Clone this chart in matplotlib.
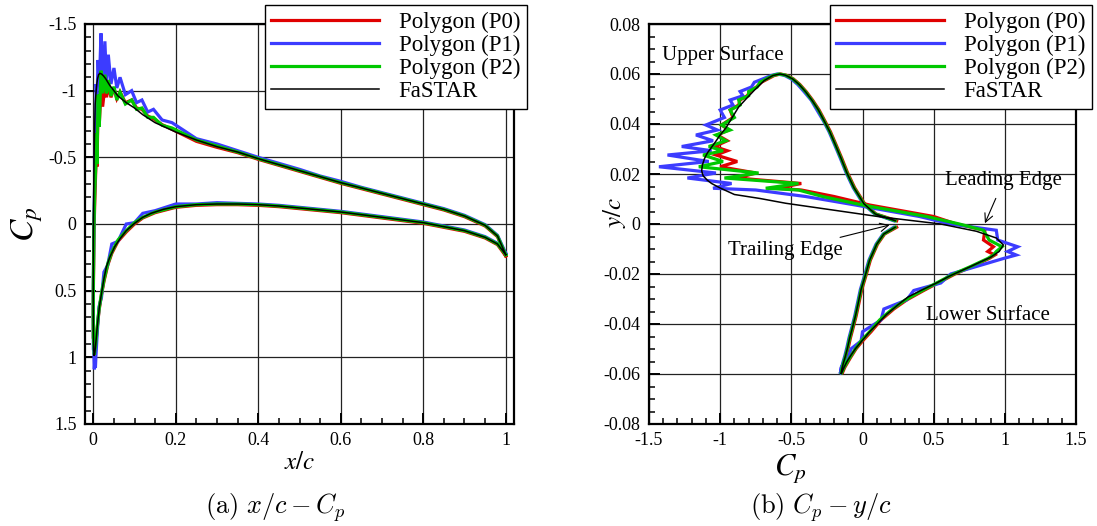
import numpy as np
import matplotlib
matplotlib.use("Agg")
import matplotlib.pyplot as plt
from matplotlib.ticker import MultipleLocator, FuncFormatter

plt.rcParams['font.family'] = ['Liberation Serif', 'DejaVu Serif']
plt.rcParams['mathtext.fontset'] = 'stix'
plt.rcParams['axes.unicode_minus'] = False

# ---------------- data ----------------
# Polygon solver surface stations (leading edge -> trailing edge)
poly_x_upper = [0.0000, 0.0003, 0.0018, 0.0040, 0.0063, 0.0069, 0.0090, 0.0117, 0.0146, 0.0188,
                0.0227, 0.0282, 0.0322, 0.0365, 0.0430, 0.0502, 0.0572, 0.0649, 0.0779, 0.0931,
                0.1050, 0.1180, 0.1320, 0.1460, 0.1670, 0.1910,
                0.25, 0.30, 0.35, 0.40, 0.45, 0.50, 0.55, 0.60, 0.65, 0.70, 0.75,
                0.80, 0.85, 0.90, 0.95, 0.98, 1.00]
poly_y_upper = [0.0000, 0.0030, 0.0076, 0.0110, 0.0136, 0.0143, 0.0162, 0.0184, 0.0204, 0.0229,
                0.0250, 0.0276, 0.0293, 0.0310, 0.0333, 0.0356, 0.0376, 0.0396, 0.0426, 0.0456,
                0.0476, 0.0496, 0.0513, 0.0530, 0.0548, 0.0567,
                0.0594, 0.0600, 0.0595, 0.0580, 0.0558, 0.0529, 0.0495, 0.0456,
                0.0413, 0.0369, 0.0316, 0.0262, 0.0205, 0.0145, 0.0081, 0.0040, 0.0013]
poly_x_lower = [0.0003, 0.0013, 0.0026, 0.0040, 0.0052, 0.0065, 0.0100, 0.0140, 0.0200, 0.0260,
                0.0350, 0.0450, 0.0600, 0.0800, 0.1000, 0.1200, 0.1500, 0.2000, 0.2500, 0.3000,
                0.35, 0.40, 0.45, 0.50, 0.55, 0.60, 0.65, 0.70, 0.75, 0.80, 0.85, 0.90, 0.95, 0.98, 1.00]
poly_y_lower = [-0.0025, -0.0064, -0.0091, -0.0110, -0.0124, -0.0138, -0.0170, -0.0200, -0.0236, -0.0266,
                -0.0304, -0.0340, -0.0384, -0.0431, -0.0468, -0.0499, -0.0535, -0.0574, -0.0594, -0.0600,
                -0.0595, -0.0580, -0.0558, -0.0529, -0.0495, -0.0456, -0.0413, -0.0369, -0.0316, -0.0262,
                -0.0205, -0.0145, -0.0081, -0.0040, -0.0013]

# Polygon (P0)
p0_cp_upper = [0.66, 0.50, 0.05, -0.20, -0.43, -0.60, -0.43, -0.88, -0.75, -1.00,
               -0.88, -1.03, -0.95, -1.04, -0.95, -1.02, -0.94, -0.99, -0.91, -0.93,
               -0.87, -0.86, -0.81, -0.79, -0.745, -0.71,
               -0.62, -0.575, -0.535, -0.485, -0.44, -0.395, -0.35, -0.305,
               -0.265, -0.225, -0.185, -0.145, -0.105, -0.055, 0.015, 0.095, 0.24]
p0_cp_lower = [0.86, 0.85, 0.92, 0.88, 0.93, 0.89, 0.77, 0.65, 0.53, 0.43,
               0.31, 0.22, 0.13, 0.06, 0.00, -0.045, -0.085, -0.125, -0.14, -0.145,
               -0.145, -0.14, -0.13, -0.115, -0.10, -0.085, -0.065, -0.045, -0.025, -0.005,
               0.025, 0.055, 0.105, 0.155, 0.24]
# Polygon (P1)
p1_cp_upper = [0.62, 0.40, -0.05, -0.40, -0.75, -1.05, -0.92, -1.23, -1.03, -1.43,
               -1.08, -1.37, -1.06, -1.27, -1.05, -1.17, -1.02, -1.10, -0.97, -1.00,
               -0.91, -0.93, -0.84, -0.86, -0.78, -0.76,
               -0.64, -0.60, -0.55, -0.50, -0.455, -0.41, -0.36, -0.32,
               -0.275, -0.235, -0.195, -0.155, -0.115, -0.065, 0.005, 0.085, 0.22]
p1_cp_lower = [0.94, 0.95, 1.09, 1.02, 1.08, 0.99, 0.80, 0.62, 0.55, 0.36,
               0.31, 0.15, 0.13, 0.00, -0.01, -0.08, -0.10, -0.15, -0.15, -0.16,
               -0.155, -0.15, -0.14, -0.125, -0.11, -0.095, -0.075, -0.055, -0.035, -0.015,
               0.015, 0.045, 0.095, 0.145, 0.22]
# Polygon (P2)
p2_cp_upper = [0.68, 0.45, 0.00, -0.28, -0.45, -0.68, -0.45, -0.97, -0.73, -1.15,
               -0.98, -1.12, -0.98, -1.08, -0.96, -1.03, -0.93, -0.99, -0.90, -0.93,
               -0.86, -0.87, -0.80, -0.80, -0.74, -0.72,
               -0.63, -0.585, -0.54, -0.49, -0.445, -0.40, -0.355, -0.31,
               -0.27, -0.23, -0.19, -0.15, -0.11, -0.06, 0.01, 0.09, 0.23]
p2_cp_lower = [0.85, 0.89, 0.98, 0.94, 0.92, 0.88, 0.76, 0.64, 0.52, 0.42,
               0.30, 0.21, 0.12, 0.05, -0.01, -0.05, -0.09, -0.13, -0.145, -0.15,
               -0.15, -0.145, -0.135, -0.12, -0.105, -0.09, -0.07, -0.05, -0.03, -0.01,
               0.02, 0.05, 0.10, 0.15, 0.23]

# FaSTAR
fastar_x_upper = [0.0000, 0.0003, 0.0010, 0.0022, 0.0034, 0.0047, 0.0070, 0.0090, 0.0105, 0.0130,
                  0.0160, 0.0200, 0.0250, 0.0300, 0.0400, 0.0500, 0.0600, 0.0800, 0.1000, 0.1200,
                  0.1500, 0.2000, 0.25, 0.30, 0.35, 0.40, 0.45, 0.50, 0.55, 0.60, 0.65, 0.70,
                  0.75, 0.80, 0.85, 0.90, 0.95, 0.98, 1.00]
fastar_y_upper = [0.0000, 0.0029, 0.0056, 0.0083, 0.0102, 0.0118, 0.0144, 0.0162, 0.0175, 0.0193,
                  0.0213, 0.0236, 0.0262, 0.0284, 0.0323, 0.0356, 0.0384, 0.0431, 0.0468, 0.0499,
                  0.0535, 0.0574, 0.0594, 0.0600, 0.0595, 0.0580, 0.0558, 0.0529, 0.0495, 0.0456,
                  0.0413, 0.0369, 0.0316, 0.0262, 0.0205, 0.0145, 0.0081, 0.0040, 0.0013]
fastar_cp_upper = [0.55, 0.12, -0.21, -0.54, -0.72, -0.90, -1.00, -1.06, -1.09, -1.12,
                   -1.13, -1.125, -1.11, -1.09, -1.04, -1.00, -0.96, -0.91, -0.87, -0.82,
                   -0.76, -0.69, -0.63, -0.58, -0.54, -0.49, -0.445, -0.40, -0.355, -0.31,
                   -0.27, -0.23, -0.19, -0.15, -0.11, -0.06, 0.01, 0.09, 0.23]
fastar_x_lower = [0.0003, 0.0010, 0.0023, 0.0040, 0.0060, 0.0100, 0.0150, 0.0200, 0.0260, 0.0320,
                  0.0400, 0.0520, 0.0650, 0.0800, 0.1000, 0.1200, 0.1400, 0.1700, 0.2000, 0.2500,
                  0.3000, 0.35, 0.40, 0.45, 0.50, 0.55, 0.60, 0.65, 0.70, 0.75, 0.80, 0.85,
                  0.90, 0.95, 0.98, 1.00]
fastar_y_lower = [-0.0029, -0.0056, -0.0084, -0.0110, -0.0133, -0.0170, -0.0206, -0.0236, -0.0266, -0.0292,
                  -0.0323, -0.0361, -0.0396, -0.0431, -0.0468, -0.0499, -0.0524, -0.0551, -0.0574, -0.0594,
                  -0.0600, -0.0595, -0.0580, -0.0558, -0.0529, -0.0495, -0.0456, -0.0413, -0.0369, -0.0316,
                  -0.0262, -0.0205, -0.0145, -0.0081, -0.0040, -0.0013]
fastar_cp_lower = [0.80, 0.94, 0.99, 0.96, 0.90, 0.76, 0.62, 0.52, 0.41, 0.32,
                   0.25, 0.17, 0.11, 0.05, -0.005, -0.05, -0.08, -0.11, -0.13, -0.145,
                   -0.15, -0.15, -0.145, -0.135, -0.12, -0.105, -0.09, -0.07, -0.05, -0.03,
                   -0.01, 0.02, 0.05, 0.10, 0.15, 0.23]

series_labels = ["Polygon (P0)", "Polygon (P1)", "Polygon (P2)", "FaSTAR"]
series_colors = ["#e00000", "#3c3cff", "#00c800", "#000000"]
series_widths = [2.3, 2.3, 2.3, 1.1]

annot_texts = ["Upper Surface", "Leading Edge", "Trailing Edge", "Lower Surface"]
caption_a = r"$\mathrm{(a)}\ x/c - C_p$"
caption_b = r"$\mathrm{(b)}\ C_p - y/c$"


def closed(xu, xl):
    return np.concatenate([np.asarray(xu)[::-1], np.asarray(xl)])


series = [
    (closed(poly_x_upper, poly_x_lower), closed(poly_y_upper, poly_y_lower), closed(p0_cp_upper, p0_cp_lower)),
    (closed(poly_x_upper, poly_x_lower), closed(poly_y_upper, poly_y_lower), closed(p1_cp_upper, p1_cp_lower)),
    (closed(poly_x_upper, poly_x_lower), closed(poly_y_upper, poly_y_lower), closed(p2_cp_upper, p2_cp_lower)),
    (closed(fastar_x_upper, fastar_x_lower), closed(fastar_y_upper, fastar_y_lower), closed(fastar_cp_upper, fastar_cp_lower)),
]

# ---------------- figure ----------------
W, H = 1097, 526
fig = plt.figure(figsize=(W / 100, H / 100), dpi=100)
axL = fig.add_axes([85 / W, (H - 424) / H, 429 / W, 400 / H])
axR = fig.add_axes([649 / W, (H - 424) / H, 427 / W, 400 / H])


def fmt(v, pos):
    v = round(v, 4)
    if abs(v) < 1e-9:
        return "0"
    return "%g" % v


for ax in (axL, axR):
    for s in ax.spines.values():
        s.set_linewidth(1.6)
    ax.tick_params(which='both', direction='in', top=False, right=False,
                   labelsize=13, width=1.4, pad=6)
    ax.tick_params(which='major', length=8)
    ax.tick_params(which='minor', length=4, width=1.1)
    ax.grid(True, which='major', color='#222222', linewidth=0.9)
    ax.set_axisbelow(True)
    ax.xaxis.set_major_formatter(FuncFormatter(fmt))
    ax.yaxis.set_major_formatter(FuncFormatter(fmt))

handles = []
for (x, y, cp), lab, col, lw in zip(series, series_labels, series_colors, series_widths):
    h, = axL.plot(x, cp, color=col, lw=lw, label=lab, solid_joinstyle='miter')
    axR.plot(cp, y, color=col, lw=lw, solid_joinstyle='miter')
    handles.append(h)

axL.set_xlim(-0.02, 1.02)
axL.set_ylim(1.5, -1.5)
axL.xaxis.set_major_locator(MultipleLocator(0.2))
axL.xaxis.set_minor_locator(MultipleLocator(0.05))
axL.yaxis.set_major_locator(MultipleLocator(0.5))
axL.yaxis.set_minor_locator(MultipleLocator(0.1))
axL.set_xlabel(r"$x/c$", fontsize=18)
axL.xaxis.set_label_coords(0.50, -0.07)
axL.set_ylabel(r"$C_p$", fontsize=24, rotation=90)
axL.yaxis.set_label_coords(-0.093, 0.50)

axR.set_xlim(-1.5, 1.5)
axR.set_ylim(-0.08, 0.08)
axR.xaxis.set_major_locator(MultipleLocator(0.5))
axR.xaxis.set_minor_locator(MultipleLocator(0.1))
axR.yaxis.set_major_locator(MultipleLocator(0.02))
axR.yaxis.set_minor_locator(MultipleLocator(0.005))
axR.set_xlabel(r"$C_p$", fontsize=22)
axR.xaxis.set_label_coords(0.33, -0.07)
axR.set_ylabel(r"$y/c$", fontsize=18)
axR.yaxis.set_label_coords(-0.05, 0.53)

# annotations on right panel
axR.text(-1.41, 0.0676, annot_texts[0], fontsize=15, ha='left', va='center')
axR.annotate(annot_texts[1], xy=(0.86, 0.0003), xytext=(0.99, 0.0172),
             fontsize=15, ha='center', va='center',
             arrowprops=dict(arrowstyle='->', color='k', lw=0.8, shrinkA=4, shrinkB=0))
axR.annotate(annot_texts[2], xy=(0.19, -0.0004), xytext=(-0.54, -0.0108),
             fontsize=15, ha='center', va='center',
             arrowprops=dict(arrowstyle='->', color='k', lw=0.8, shrinkA=4, shrinkB=0))
axR.text(0.88, -0.0368, annot_texts[3], fontsize=15, ha='center', va='center')

# legends
for ax, right_px in ((axL, 527), (axR, 1092)):
    leg = ax.legend(handles=handles, labels=series_labels, loc='upper right',
                    bbox_to_anchor=(right_px / W, 1 - 5 / H), bbox_transform=fig.transFigure,
                    fontsize=16.5, frameon=True, fancybox=False, framealpha=1,
                    edgecolor='black', borderpad=0.3, labelspacing=0.08,
                    handlelength=4.7, handletextpad=0.85, borderaxespad=0)
    leg.get_frame().set_linewidth(1.0)
    leg.set_zorder(10)

# captions
fig.text(275 / W, 1 - 508 / H, caption_a, fontsize=19, ha='center', va='center', math_fontfamily='cm')
fig.text(821 / W, 1 - 508 / H, caption_b, fontsize=19, ha='center', va='center', math_fontfamily='cm')

fig.savefig("out.png", dpi=100)
